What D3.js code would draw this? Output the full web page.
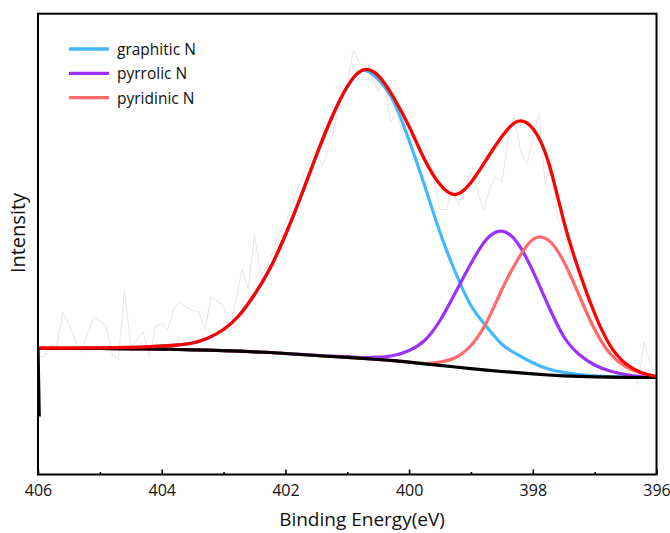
<!DOCTYPE html>
<html>
<head>
<meta charset="utf-8">
<script src="https://cdn.jsdelivr.net/npm/d3@7"></script>
<style>
  body { margin: 0; background: #fff; }
  svg { display: block; font-family: "Open Sans", sans-serif; }
</style>
</head>
<body>
<svg width="670" height="533"></svg>
<script>
// binding energy grid (eV) for the fitted curves
const energy = [406, 405.75, 405.5, 405.25, 405, 404.75, 404.5, 404.25, 404, 403.75,
  403.5, 403.25, 403, 402.75, 402.5, 402.25, 402, 401.75, 401.5, 401.25,
  401, 400.75, 400.5, 400.25, 400, 399.75, 399.5, 399.25, 399, 398.75,
  398.5, 398.25, 398, 397.75, 397.5, 397.25, 397, 396.75, 396.5, 396.25, 396];

const background = [126, 126, 126, 126, 126, 125.9, 125.7, 125.5, 125.3, 125,
  124.7, 124.3, 123.8, 123.3, 122.7, 122, 121, 120, 119, 118,
  117.2, 116.1, 115, 113.9, 112.3, 110.7, 109.1, 107.5, 105.9, 104.4,
  103, 101.8, 100.6, 99.5, 98.7, 98.1, 97.6, 97.3, 97.1, 97, 97];

const graphiticN = [126.5, 126.5, 126.5, 126.6, 126.7, 126.9, 127.2, 127.7, 128.5, 129.5,
  131.5, 136.5, 145, 159, 180, 206, 239.5, 278, 319, 357,
  387.5, 404, 395, 373, 334, 289, 242, 202, 169, 148,
  130.3, 120, 111.7, 105.5, 102.2, 100, 98.7, 97.8, 97.4, 97.1, 97];

const pyrrolicN = [126, 126, 126, 126, 126, 125.9, 125.7, 125.5, 125.3, 125,
  124.7, 124.3, 123.8, 123.3, 122.7, 122, 121, 120.1, 119.2, 118.4,
  117.8, 117, 117.3, 119, 124, 134, 154, 182, 211, 235,
  243.3, 231.7, 203.6, 169, 138, 120, 109.5, 103.5, 100, 98, 97];

const pyridinicN = [126, 126, 126, 126, 126, 125.9, 125.7, 125.5, 125.3, 125,
  124.7, 124.3, 123.8, 123.3, 122.7, 122, 121, 120, 119, 118,
  117.2, 116.1, 115, 113.9, 112.4, 111, 112.5, 117, 129, 152,
  185, 214.3, 235, 234.5, 213, 179, 145, 121, 108, 101.5, 98];

const envelope = [126.5, 126.5, 126.5, 126.6, 126.7, 126.9, 127.2, 127.7, 128.5, 129.5,
  131.5, 136.5, 145, 159, 180, 206, 239.5, 278, 319, 357,
  388, 404.5, 399, 377, 348, 315, 290, 280, 292, 315,
  338, 353, 346, 313, 253.5, 203, 161, 129, 111, 102, 98];

// measured spectrum
const rawEnergy = [406, 405.9, 405.8, 405.7, 405.6, 405.5, 405.4, 405.3, 405.2, 405.1,
  405, 404.9, 404.8, 404.7, 404.6, 404.5, 404.4, 404.3, 404.2, 404.1,
  404, 403.9, 403.8, 403.7, 403.6, 403.5, 403.4, 403.3, 403.2, 403.1,
  403, 402.9, 402.8, 402.7, 402.6, 402.5, 402.4, 402.3, 402.2, 402.1,
  402, 401.9, 401.8, 401.7, 401.6, 401.5, 401.4, 401.3, 401.2, 401.1,
  401, 400.9, 400.8, 400.7, 400.6, 400.5, 400.4, 400.3, 400.2, 400.1,
  400, 399.9, 399.8, 399.7, 399.6, 399.5, 399.4, 399.3, 399.2, 399.1,
  399, 398.9, 398.8, 398.7, 398.6, 398.5, 398.4, 398.3, 398.2, 398.1,
  398, 397.9, 397.8, 397.7, 397.6, 397.5, 397.4, 397.3, 397.2, 397.1,
  397, 396.9, 396.8, 396.7, 396.6, 396.5, 396.4, 396.3, 396.2, 396.1, 396];
const rawCounts = [118, 118, 130, 127, 162, 150, 135, 122, 140, 157,
  153, 149, 120, 115, 185, 127, 135, 143, 117, 148,
  151, 145, 166, 173, 167, 164, 163, 145, 178, 173,
  169, 141, 175, 205, 185, 240, 200, 207, 223, 243,
  250, 270, 285, 300, 315, 325, 309, 325, 351, 377,
  390, 425, 411, 408, 397, 383, 393, 353, 360, 340,
  337, 328, 325, 323, 295, 265, 265, 285, 270, 285,
  302, 285, 265, 285, 298, 292, 335, 358, 325, 310,
  335, 362, 290, 315, 255, 245, 220, 185, 175, 155,
  150, 135, 120, 125, 107, 103, 105, 90, 133, 110, 98];

// the background starts from a low point right at the left edge
const bgEdge = [405.98, 58];

const seriesNames = ['graphitic N', 'pyrrolic N', 'pyridinic N'];
const seriesColors = ['#42b9ff', '#9b30ff', '#ff6a6a'];
const majorTicks = [406, 404, 402, 400, 398, 396];
const minorTicks = [405, 403, 401, 399, 397];

const plotLeft = 38, plotRight = 656.5, plotTop = 13.7, plotBottom = 474.5;

function rows(values){
  return energy.map(function(e, i){ return {e: e, v: values[i]}; });
}

function renderAxes(svg, x){
  var major = d3.axisBottom(x)
                .tickValues(majorTicks)
                .tickSize(-5)
                .tickPadding(10.5)
                .tickFormat(d3.format("d"));
  var minor = d3.axisBottom(x)
                .tickValues(minorTicks)
                .tickSize(-2.5)
                .tickFormat("");

  svg.append("g")
     .attr("class", "axis minor")
     .attr("transform", "translate(0," + plotBottom + ")")
     .call(minor)
     .call(function(g){ g.select(".domain").remove(); });

  var g = svg.append("g")
     .attr("class", "axis major")
     .attr("transform", "translate(0," + plotBottom + ")")
     .call(major);
  g.select(".domain").remove();
  g.selectAll(".tick text").attr("font-size", 16).attr("fill", "#111").attr("font-family", '"Open Sans", sans-serif');

  svg.selectAll(".axis .tick line").attr("stroke", "#000").attr("stroke-width", 1.6);

  // frame
  svg.append("rect")
     .attr("x", plotLeft).attr("y", plotTop)
     .attr("width", plotRight - plotLeft).attr("height", plotBottom - plotTop)
     .attr("fill", "none").attr("stroke", "#000").attr("stroke-width", 2);

  svg.append("text")
     .attr("x", 362)
     .attr("y", 526)
     .attr("text-anchor", "middle")
     .attr("font-size", 19)
     .attr("fill", "#111")
     .text("Binding Energy(eV)");

  svg.append("text")
     .attr("transform", "translate(25,233) rotate(-90)")
     .attr("text-anchor", "middle")
     .attr("font-size", 20)
     .attr("fill", "#111")
     .text("Intensity");
}

function renderLegend(svg){
  var item = svg.append("g").attr("class", "legend")
                .selectAll("g")
                .data(seriesNames)
                .enter().append("g")
                .attr("transform", function(d, i){ return "translate(69," + (49 + i * 24.3) + ")"; });

  item.append("line")
      .attr("x1", 0).attr("x2", 40)
      .attr("stroke", function(d, i){ return seriesColors[i]; })
      .attr("stroke-width", 3.3);

  item.append("text")
      .attr("x", 48)
      .attr("y", 6)
      .attr("font-size", 15.5)
      .attr("fill", "#111")
      .text(function(d){ return d; });
}

function renderChart(){
  var svg = d3.select("svg");

  var x = d3.scaleLinear().domain([406, 396]).range([plotLeft, plotRight]);
  var y = d3.scaleLinear().domain([0, 461]).range([474.5, 13.5]);

  svg.append("clipPath").attr("id", "plot-clip")
     .append("rect")
     .attr("x", plotLeft).attr("y", plotTop)
     .attr("width", plotRight - plotLeft).attr("height", plotBottom - plotTop);

  var g = svg.append("g").attr("clip-path", "url(#plot-clip)");

  var straight = d3.line().x(function(d){ return x(d.e); }).y(function(d){ return y(d.v); });
  var smooth = d3.line().curve(d3.curveNatural)
                 .x(function(d){ return x(d.e); }).y(function(d){ return y(d.v); });

  var raw = rawEnergy.map(function(e, i){ return {e: e, v: rawCounts[i]}; });
  g.append("path").datum(raw)
   .attr("fill", "none").attr("stroke", "#e6e6e6").attr("stroke-width", 1)
   .attr("d", straight);

  [graphiticN, pyrrolicN, pyridinicN].forEach(function(s, i){
    g.append("path").datum(rows(s))
     .attr("fill", "none").attr("stroke", seriesColors[i]).attr("stroke-width", 3.2)
     .attr("stroke-linejoin", "round")
     .attr("d", smooth);
  });

  var bg = [{e: bgEdge[0], v: bgEdge[1]}].concat(rows(background));
  g.append("path").datum(bg)
   .attr("fill", "none").attr("stroke", "#000").attr("stroke-width", 3.2)
   .attr("d", straight);

  g.append("path").datum(rows(envelope))
   .attr("fill", "none").attr("stroke", "#ff0000").attr("stroke-width", 3.3)
   .attr("stroke-linejoin", "round")
   .attr("d", smooth);

  renderAxes(svg, x);
  renderLegend(svg);
}

renderChart();
</script>
</body>
</html>
